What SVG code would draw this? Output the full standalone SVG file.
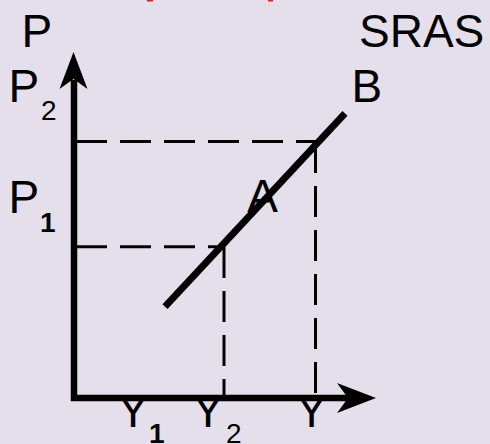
<svg xmlns="http://www.w3.org/2000/svg" width="490" height="444" viewBox="0 0 490 444">
<style>
.lbl{font-family:"Liberation Sans",Arial,sans-serif;font-size:46px;fill:#000}
.sub{font-family:"Liberation Sans",Arial,sans-serif;font-size:28px;fill:#000}
.b{font-weight:bold}
.dash{stroke:#000;stroke-width:3;stroke-dasharray:31 13;fill:none}
</style>
<rect width="490" height="444" fill="#E4DFEB"/>
<rect x="147" y="0" width="6" height="1.5" fill="#E02020"/>
<rect x="268" y="0" width="5" height="1.5" fill="#E02020"/>
<g id="connectors">
  <line class="dash" x1="76" y1="141.5" x2="316" y2="141.5"/>
  <line class="dash" x1="76" y1="246.7" x2="224" y2="246.7"/>
  <line class="dash" x1="315.5" y1="142" x2="315.5" y2="396"/>
  <line class="dash" x1="224" y1="247" x2="224" y2="396"/>
</g>
<g id="axes">
  <polyline points="74,80 74,398 350,398" fill="none" stroke="#000" stroke-width="6.5" stroke-linejoin="miter"/>
  <polygon points="73.5,52 87.5,89 73.5,79 59.5,89" fill="#000"/>
  <polygon points="376,398 337,383 348,398 337,413" fill="#000"/>
</g>
<g id="sras">
  <line x1="165" y1="306.7" x2="345" y2="113.3" stroke="#000" stroke-width="7"/>
</g>
<g id="labels">
  <text class="lbl" x="21.5" y="47">P</text>
  <text class="lbl" x="359" y="47">SRAS</text>
  <text class="lbl" x="8.5" y="102">P</text>
  <text class="sub" x="41" y="120">2</text>
  <text class="lbl" x="8.5" y="213">P</text>
  <text class="sub b" x="40" y="232">1</text>
  <text class="lbl" x="351.5" y="102">B</text>
  <text class="lbl" x="262.5" y="212" text-anchor="middle">A</text>
  <text class="lbl" x="133" y="427" text-anchor="middle">Y</text>
  <text class="sub b" x="149" y="443">1</text>
  <text class="lbl" x="208" y="427" text-anchor="middle">Y</text>
  <text class="sub" x="226" y="443">2</text>
  <text class="lbl" x="311.5" y="427" text-anchor="middle">Y</text>
</g>
</svg>
